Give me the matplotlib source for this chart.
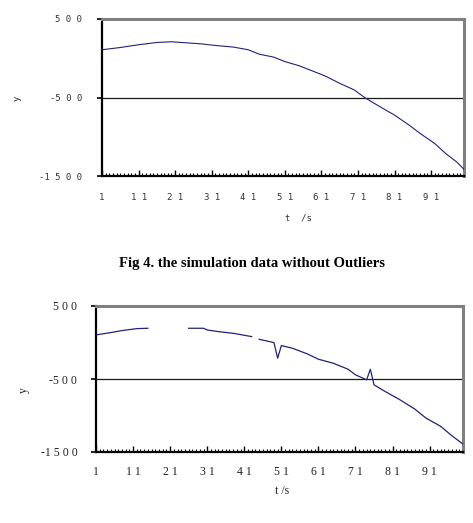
import numpy as np
import matplotlib
matplotlib.use("Agg")
import matplotlib.pyplot as plt
from matplotlib.ticker import FixedLocator, MultipleLocator

# ---- data ----
t_clean = [1, 6, 11, 16, 20, 23, 28, 32, 37, 41, 44, 48, 51, 55, 59, 62, 66, 70,
           73, 77, 81, 85, 88, 92, 95, 98, 100]
y_clean = [108, 137, 172, 201, 210, 200, 184, 163, 142, 108, 52, 14, -42, -97,
           -170, -225, -319, -404, -506, -617, -724, -852, -958, -1086, -1214,
           -1321, -1415]

nan = float("nan")
t_outl = [1, 5, 8, 12, 15, 16, 25, 26, 30, 31, 34, 38, 43, 44, 45, 49, 50, 51,
          54, 58, 61, 65, 69, 71, 74, 75, 76, 79, 83, 87, 90, 94, 97, 100]
y_outl = [104, 136, 163, 190, 195, nan, nan, 195, 195, 172, 149, 126, 81, nan,
          44, -1, -215, -42, -79, -156, -229, -284, -366, -443, -511, -367,
          -580, -671, -785, -912, -1035, -1149, -1277, -1391]

x_ticks = [1, 11, 21, 31, 41, 51, 61, 71, 81, 91]
x_tick_labels = ["1", "1 1", "2 1", "3 1", "4 1", "5 1", "6 1", "7 1", "8 1", "9 1"]
y_ticks = [500, -500, -1500]
y_tick_labels = ["5 0 0", "-5 0 0", "-1 5 0 0"]

LINE = "#22227a"

fig = plt.figure(figsize=(4.73, 5.23), dpi=100)

def style(ax, font, fsize, color, ypad, xpad):
    ax.set_xlim(1, 100)
    ax.set_ylim(-1500, 500)
    ax.set_xticks(x_ticks)
    ax.set_xticklabels(x_tick_labels, family=font, fontsize=fsize, color=color)
    ax.set_yticks(y_ticks)
    ax.set_yticklabels(y_tick_labels, family=font, fontsize=fsize, color=color)
    ax.xaxis.set_minor_locator(MultipleLocator(1))
    ax.tick_params(axis="x", which="major", direction="in", length=4, width=1,
                   pad=xpad, color="black")
    ax.tick_params(axis="x", which="minor", direction="in", length=2.5, width=0.8,
                   color="black")
    ax.tick_params(axis="y", which="major", direction="out", length=3.5, width=1.2,
                   pad=ypad, color="black")
    for s in ("left", "bottom"):
        ax.spines[s].set_color("black")
        ax.spines[s].set_linewidth(1.6)
    for s in ("top", "right"):
        ax.spines[s].set_color("#808080")
        ax.spines[s].set_linewidth(2.2)
    ax.axhline(-500, color="#1a1a1a", lw=0.9, zorder=1)

# top chart
ax1 = fig.add_axes([102/473, 1-176/523, 362/473, 157/523])
ax1.plot(t_clean, y_clean, color=LINE, lw=0.8, zorder=3)
style(ax1, "DejaVu Sans Mono", 6.5, "#333333", 11, 12)
fig.text(17/473, 1-98/523, "y", rotation=90, ha="center", va="center",
         family="DejaVu Sans Mono", fontsize=6.5, color="#333333")
fig.text(298/473, 1-218/523, "t  /s", ha="center", va="center",
         family="DejaVu Sans Mono", fontsize=6.5, color="#333333")

fig.text(252/473, 1-263/523, "Fig 4. the simulation data without Outliers",
         ha="center", va="center", family="Liberation Serif",
         fontweight="bold", fontsize=10.5)

# bottom chart
ax2 = fig.add_axes([96/473, 1-452/523, 367/473, 146/523])
ax2.plot(t_outl, y_outl, color=LINE, lw=0.9, zorder=3)
style(ax2, "Liberation Serif", 8.5, "#222222", 10, 10)
fig.text(24/473, 1-390/523, "y", rotation=90, ha="center", va="center",
         family="Liberation Serif", fontsize=8.5, color="#222222")
fig.text(282/473, 1-491/523, "t /s", ha="center", va="center",
         family="Liberation Serif", fontsize=8.5, color="#222222")

fig.savefig("out.png", dpi=100)
